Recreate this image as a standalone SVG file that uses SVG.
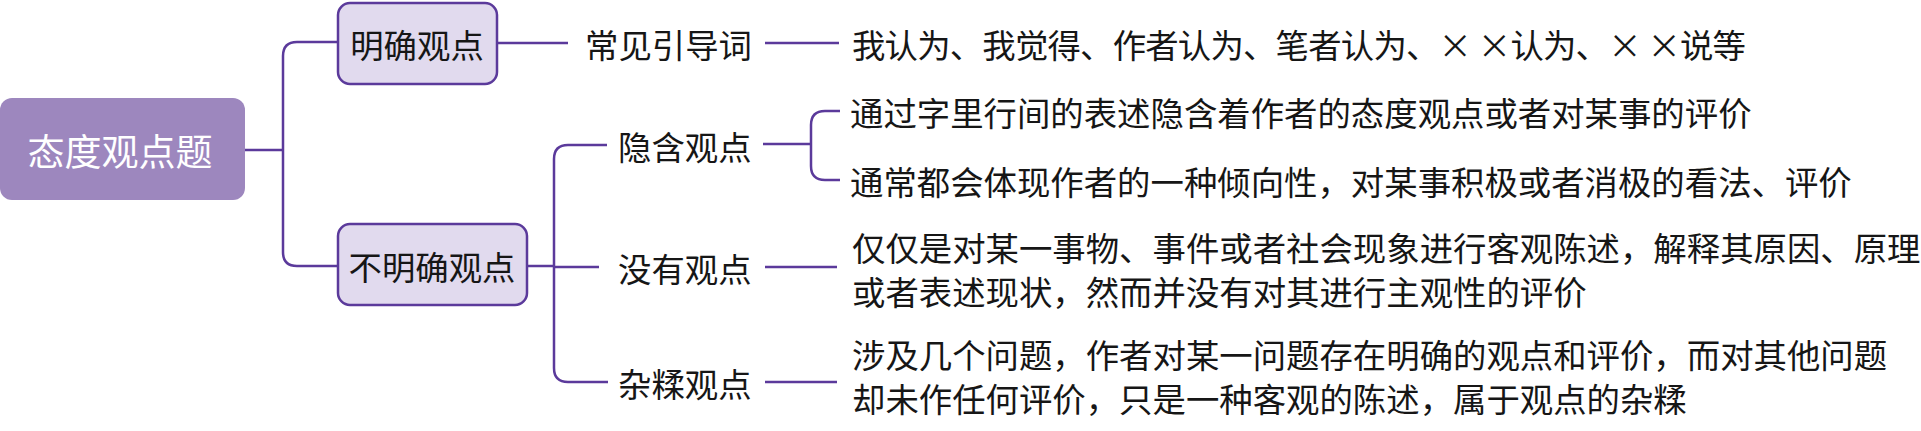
<svg xmlns="http://www.w3.org/2000/svg" width="1921" height="431" viewBox="0 0 1921 431">
<style>
.bg{fill:#ffffff}
.root{fill:#9D87BE}
.box{fill:#E1DAEE;stroke:#5B3A9B;stroke-width:2.5}
.ln{fill:none;stroke:#5B3A9B;stroke-width:2.5}
text{font-family:"Noto Sans CJK SC","Noto Sans CJK JP",sans-serif;fill:#161616;font-size:33.4px;dominant-baseline:central}
.rt{fill:#ffffff;font-size:37px;text-anchor:middle}
.mid{text-anchor:middle}
</style>
<rect class="bg" x="0" y="0" width="1921" height="431"/>
<g id="connectors">
<path class="ln" d="M245,150 H283"/>
<path class="ln" d="M338,42 H297 Q283,42 283,56 V252 Q283,266 297,266 H338"/>
<path class="ln" d="M497,43 H568"/>
<path class="ln" d="M765,43 H839"/>
<path class="ln" d="M527,266 H554"/>
<path class="ln" d="M607,145 H568 Q554,145 554,159 V368 Q554,382 568,382 H608"/>
<path class="ln" d="M554,267 H599"/>
<path class="ln" d="M763,144 H811"/>
<path class="ln" d="M840,111 H825 Q811,111 811,125 V166 Q811,180 825,180 H840"/>
<path class="ln" d="M765,267 H837"/>
<path class="ln" d="M765,382 H837"/>
</g>
<g id="root">
<rect class="root" x="0" y="98" width="245" height="102" rx="12"/>
<text class="rt" x="120" y="150">态度观点题</text>
</g>
<g id="n-mingque">
<rect class="box" x="338" y="3" width="159" height="81" rx="12"/>
<text class="mid" x="417" y="43">明确观点</text>
</g>
<g id="n-bumingque">
<rect class="box" x="338" y="224" width="189" height="81" rx="12"/>
<text class="mid" x="432" y="265">不明确观点</text>
</g>
<g id="n-yindao">
<text x="585" y="43">常见引导词</text>
</g>
<g id="n-yindao-text">
<text x="852" y="43" textLength="894" lengthAdjust="spacing">我认为、我觉得、作者认为、笔者认为、× ×认为、× ×说等</text>
</g>
<g id="n-yinhan">
<text x="618" y="145">隐含观点</text>
</g>
<g id="n-yinhan-1">
<text x="850" y="111">通过字里行间的表述隐含着作者的态度观点或者对某事的评价</text>
</g>
<g id="n-yinhan-2">
<text x="850" y="180">通常都会体现作者的一种倾向性，对某事积极或者消极的看法、评价</text>
</g>
<g id="n-meiyou">
<text x="618" y="267">没有观点</text>
</g>
<g id="n-meiyou-text">
<text x="852" y="246">仅仅是对某一事物、事件或者社会现象进行客观陈述，解释其原因、原理</text>
<text x="852" y="290">或者表述现状，然而并没有对其进行主观性的评价</text>
</g>
<g id="n-zarou">
<text x="618" y="382">杂糅观点</text>
</g>
<g id="n-zarou-text">
<text x="852" y="353">涉及几个问题，作者对某一问题存在明确的观点和评价，而对其他问题</text>
<text x="852" y="397">却未作任何评价，只是一种客观的陈述，属于观点的杂糅</text>
</g>
</svg>
